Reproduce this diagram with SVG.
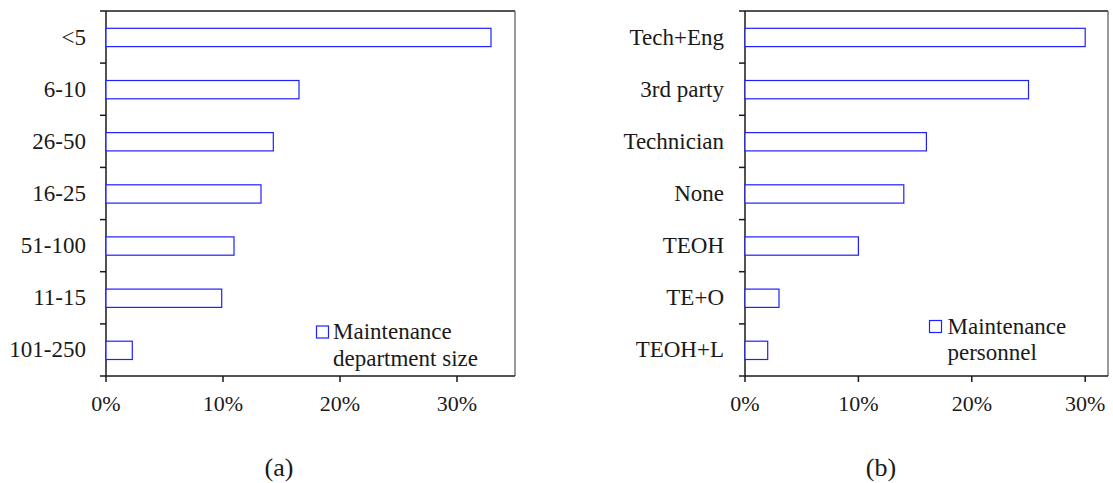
<svg xmlns="http://www.w3.org/2000/svg" width="1113" height="483" viewBox="0 0 1113 483">
  <style>
    text { font-family: "Liberation Serif", "Times New Roman", serif; fill: #1a1a1a; }
    .lbl { font-size: 23px; text-anchor: end; }
    .tick { font-size: 22px; text-anchor: middle; }
    .leg { font-size: 23px; }
    .cap { font-size: 26px; text-anchor: middle; }
    .bar { fill: #ffffff; stroke: #2020ff; stroke-width: 1.2; }
    .axis { stroke: #1a1a1a; stroke-width: 1.5; fill: none; }
    .frame { stroke: #555555; stroke-width: 1.2; fill: none; }
  </style>

  <!-- Chart (a): maintenance department size -->
  <g id="chart-a">
    <line class="axis" x1="106" y1="11" x2="515" y2="11"/>
    <line class="frame" x1="515" y1="11" x2="515" y2="376"/>
    <line class="axis" x1="106" y1="11" x2="106" y2="376"/>
    <line class="axis" x1="100" y1="376" x2="515" y2="376"/>
    <g class="axis">
      <line x1="100" y1="11" x2="106" y2="11"/>
      <line x1="100" y1="63.1" x2="106" y2="63.1"/>
      <line x1="100" y1="115.3" x2="106" y2="115.3"/>
      <line x1="100" y1="167.4" x2="106" y2="167.4"/>
      <line x1="100" y1="219.6" x2="106" y2="219.6"/>
      <line x1="100" y1="271.7" x2="106" y2="271.7"/>
      <line x1="100" y1="323.9" x2="106" y2="323.9"/>
      <line x1="106" y1="376" x2="106" y2="382"/>
      <line x1="223" y1="376" x2="223" y2="382"/>
      <line x1="340" y1="376" x2="340" y2="382"/>
      <line x1="457" y1="376" x2="457" y2="382"/>
    </g>
    <g id="bars-a">
      <rect class="bar" x="106" y="28.3" width="385" height="18.3"/>
      <rect class="bar" x="106" y="80.5" width="193" height="18.3"/>
      <rect class="bar" x="106" y="132.6" width="167.3" height="18.3"/>
      <rect class="bar" x="106" y="184.8" width="155" height="18.3"/>
      <rect class="bar" x="106" y="236.9" width="128" height="18.3"/>
      <rect class="bar" x="106" y="289.1" width="115.7" height="18.3"/>
      <rect class="bar" x="106" y="341.2" width="26.3" height="18.3"/>
    </g>
    <text class="lbl" x="86" y="44.5">&lt;5</text>
    <text class="lbl" x="86" y="96.7">6-10</text>
    <text class="lbl" x="86" y="148.8">26-50</text>
    <text class="lbl" x="86" y="201">16-25</text>
    <text class="lbl" x="86" y="253.1">51-100</text>
    <text class="lbl" x="86" y="305.3">11-15</text>
    <text class="lbl" x="86" y="357.4">101-250</text>
    <text class="tick" x="106" y="411">0%</text>
    <text class="tick" x="223" y="411">10%</text>
    <text class="tick" x="340" y="411">20%</text>
    <text class="tick" x="457" y="411">30%</text>
    <g id="legend-a">
      <rect class="bar" x="316.5" y="326" width="12" height="12"/>
      <text class="leg" x="333" y="339">Maintenance</text>
      <text class="leg" x="333" y="365.5">department size</text>
    </g>
    <text class="cap" x="279" y="476">(a)</text>
  </g>

  <!-- Chart (b): maintenance personnel -->
  <g id="chart-b">
    <line class="axis" x1="745" y1="11" x2="1108" y2="11"/>
    <line class="frame" x1="1108" y1="11" x2="1108" y2="376"/>
    <line class="axis" x1="745" y1="11" x2="745" y2="376"/>
    <line class="axis" x1="739" y1="376" x2="1108" y2="376"/>
    <g class="axis">
      <line x1="739" y1="11" x2="745" y2="11"/>
      <line x1="739" y1="63.1" x2="745" y2="63.1"/>
      <line x1="739" y1="115.3" x2="745" y2="115.3"/>
      <line x1="739" y1="167.4" x2="745" y2="167.4"/>
      <line x1="739" y1="219.6" x2="745" y2="219.6"/>
      <line x1="739" y1="271.7" x2="745" y2="271.7"/>
      <line x1="739" y1="323.9" x2="745" y2="323.9"/>
      <line x1="745" y1="376" x2="745" y2="382"/>
      <line x1="858.4" y1="376" x2="858.4" y2="382"/>
      <line x1="971.8" y1="376" x2="971.8" y2="382"/>
      <line x1="1085.2" y1="376" x2="1085.2" y2="382"/>
    </g>
    <g id="bars-b">
      <rect class="bar" x="745" y="28.3" width="340.2" height="18.3"/>
      <rect class="bar" x="745" y="80.5" width="283.5" height="18.3"/>
      <rect class="bar" x="745" y="132.6" width="181.4" height="18.3"/>
      <rect class="bar" x="745" y="184.8" width="158.8" height="18.3"/>
      <rect class="bar" x="745" y="236.9" width="113.4" height="18.3"/>
      <rect class="bar" x="745" y="289.1" width="34" height="18.3"/>
      <rect class="bar" x="745" y="341.2" width="22.7" height="18.3"/>
    </g>
    <text class="lbl" x="724" y="44.5">Tech+Eng</text>
    <text class="lbl" x="724" y="96.7">3rd party</text>
    <text class="lbl" x="724" y="148.8">Technician</text>
    <text class="lbl" x="724" y="201">None</text>
    <text class="lbl" x="724" y="253.1">TEOH</text>
    <text class="lbl" x="724" y="305.3">TE+O</text>
    <text class="lbl" x="724" y="357.4">TEOH+L</text>
    <text class="tick" x="745" y="411">0%</text>
    <text class="tick" x="858.4" y="411">10%</text>
    <text class="tick" x="971.8" y="411">20%</text>
    <text class="tick" x="1085.2" y="411">30%</text>
    <g id="legend-b">
      <rect class="bar" x="929.5" y="320.5" width="12" height="12"/>
      <text class="leg" x="947.5" y="333.5">Maintenance</text>
      <text class="leg" x="947.5" y="359.5">personnel</text>
    </g>
    <text class="cap" x="881" y="476">(b)</text>
  </g>
</svg>
